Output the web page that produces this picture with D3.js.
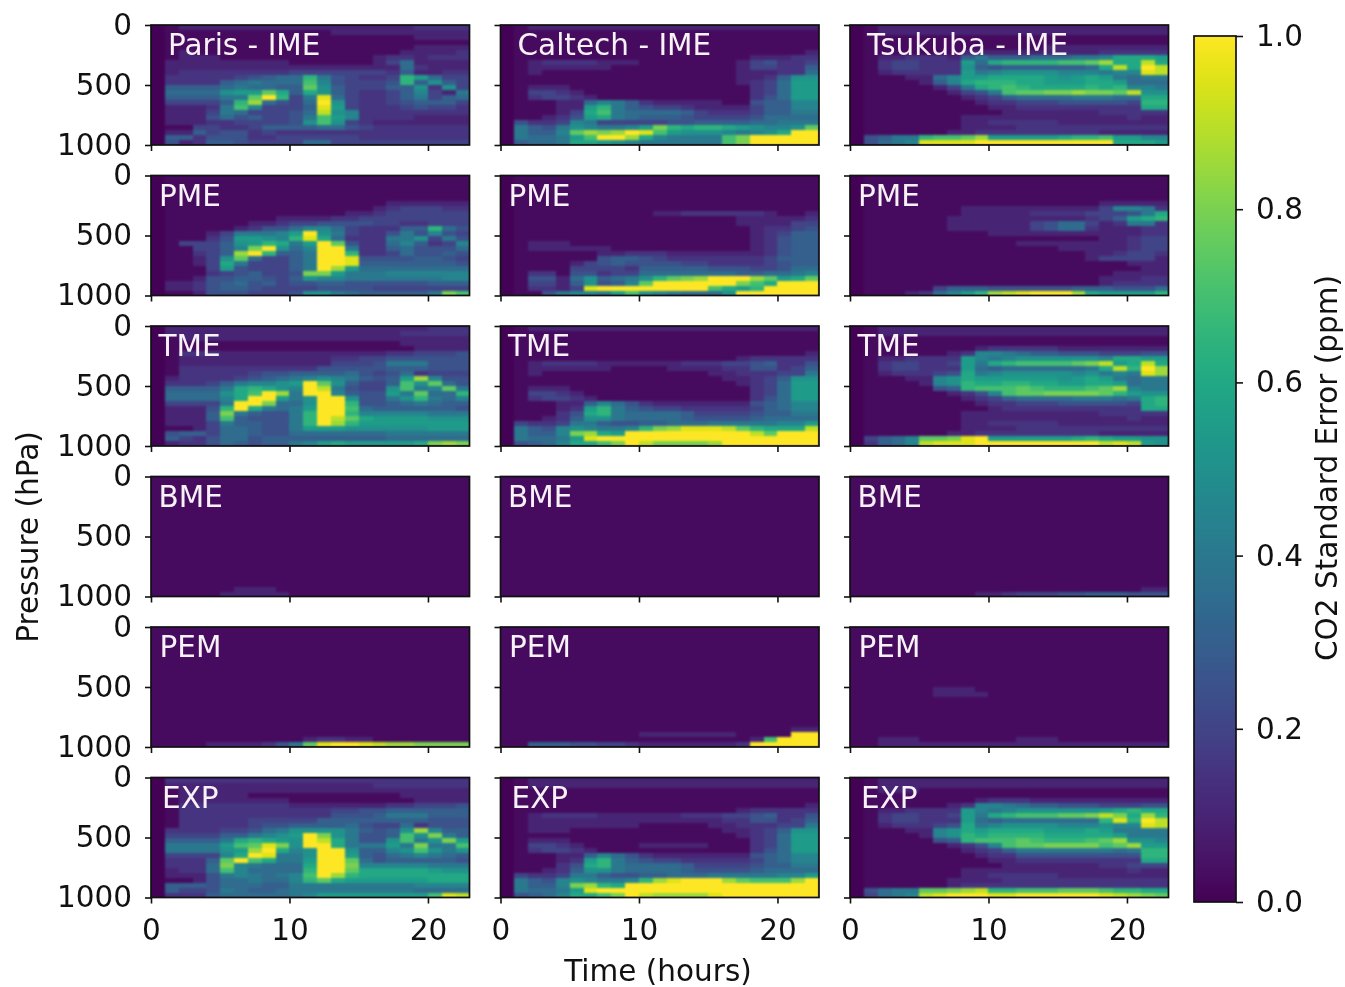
<!DOCTYPE html>
<html><head><meta charset="utf-8">
<script src="https://cdn.jsdelivr.net/npm/d3@7"></script>
<style>html,body{margin:0;background:#fff}svg{display:block;filter:blur(0.5px)}text{font-family:"DejaVu Sans",sans-serif}</style>
</head><body><svg id="c" width="1345" height="987"></svg>
<script>
// Cell values: one character per hour, index into cellLevels. 24 pressure rows top to bottom.
const cellLevels=[0.005,0.03,0.1,0.15,0.2,0.25,0.3,0.35,0.4,0.45,0.5,0.55,0.6,0.65,0.7,0.75,0.8,0.85,0.9,0.95,1];
const cellCodes="0123456789abcdefghijk";
const calm="11111 11111 11111 11111 111";
const parisIME=["01222 22222 22222 22223 333","01111 11111 11122 22222 222","01111 11111 11111 11112 222","01111 11111 11111 11111 111","01111 11111 11111 11112 222","01211 11111 11111 11122 223","01222 11111 11111 12332 333","02222 22222 11111 12472 222","02222 22222 22222 22273 222","02333 33333 44444 44362 233","03333 34567 7d854 334db 744","03333 67877 7e954 445d6 a64","06666 78776 6fa64 4466a 3a4","07777 abbfc 6ca64 33469 428","06666 88fkd 48j74 33468 467","04444 6dh75 47ka4 33456 664","02223 8e944 46jb4 33345 443","02224 87444 57ia9 33333 333","02225 75644 58eb9 33332 222","02223 34444 5aea4 32222 222","01144 33466 66775 43333 333","02264 55343 33333 33333 333","06635 55334 44444 33333 333","05236 65444 47744 44444 444"];
const caltechIME=["01222 22222 22222 22222 222","01111 11111 11111 11111 111","01111 11111 11111 11111 111","01111 11111 11111 11111 111","01111 11111 11111 11111 111","01111 11111 11111 11111 112","01111 11111 11111 11122 233","01233 33222 11111 11245 334","01222 22211 11111 11244 336","01211 11111 11111 11222 337","01111 11111 11111 11223 6aa","01111 11111 11111 11234 7bb","01222 11111 11111 11134 7bb","01443 21111 11111 11134 7bb","01344 32111 11111 11135 7bb","01112 27986 32222 21156 699","01112 2bd86 54432 22246 699","01112 4ce87 77764 33346 688","01123 5bc87 66654 44457 777","05334 98444 44556 66677 888","08658 a9889 bgdcd dcba9 9af","08669 fhghk jebaa a989a ckk","08778 bekkh c9888 8egkk kkk","06778 ccba9 88888 8egkk kkk"];
const tsukubaIME=["01222 22222 22222 22222 222","01222 22222 22222 22222 222","01111 11111 11111 11111 111","01111 11111 11111 11111 111","01111 11111 11112 22222 222","01111 11122 22222 22233 333","01223 33268 66677 7889c ccb","01344 333b7 cdddd eefhc cic","01344 333a6 56666 667ci cki","01233 333b8 9aaaa 99989 9ji","01112 279bb ccccb abcb8 788","01111 269cd ddccb bbccb 777","01111 1248c dedcc ccdcd 998","01111 11245 8effg ghggf iaa","01111 11123 46777 78887 7cc","01111 11112 33444 55555 4dd","01111 11111 22333 33333 3cc","01111 11111 12222 22233 333","01111 11122 22222 22222 322","01111 11122 33333 22222 222","01111 11122 22333 33333 333","01111 11223 33333 33322 222","05688 deefh bbbbb cddeb b99","05789 jjjjk kkkkk kkkkc ccb"];
const parisPME=["01111 11111 11111 11111 111","01111 11111 11111 11111 111","01111 11111 11111 11111 111","01111 11111 11111 11111 111","01111 11111 11111 11111 111","01111 11111 11111 11222 222","01111 11111 11111 12344 433","01111 11111 11112 23444 444","01111 11112 22233 44444 444","01111 11223 44555 54433 444","01111 12355 79974 33366 d75","01112 48889 bka84 33585 954","01113 5bba9 djc73 3388a 485","01444 6abdc 8bkf5 33796 349","01144 69gka 79kk8 33675 557","01134 6hkd6 68kkd 33475 565","01124 af744 68kkj 55556 654","01124 c8444 68kkj 66666 665","01114 b5444 68khb 77777 777","01113 45644 5ggb8 88999 999","01125 56654 6a998 88888 899","02235 67564 55665 55555 666","02235 66544 44555 54444 444","01125 55444 5aa87 66666 8ge"];
const caltechPME=["01111 11111 11111 11111 111","01111 11111 11111 11111 111","01111 11111 11111 11111 111","01111 11111 11111 11111 111","01111 11111 11111 11111 111","01111 11111 11111 11111 111","01111 11111 11111 11111 111","01111 11111 12233 33332 112","01111 11111 11111 11222 223","01111 11111 11111 11222 244","01111 11111 11111 11123 345","01111 11111 11111 11123 466","01111 11111 11111 11123 566","01222 11111 11111 11123 566","01222 22211 11111 11123 566","01111 11223 33222 22223 566","01111 11566 54333 33334 666","01111 24565 55544 33334 566","01111 44443 66666 55544 577","01331 55344 77777 77667 789","01552 7a678 adfgh kkkhf bcf","01442 6a569 fkkkk kkgec kkk","01332 4jkkk kkkkk ecbdk kkk","01158 998be a9877 7akkk kkk"];
const tsukubaPME=["01111 11111 11111 11111 111","01111 11111 11111 11111 111","01111 11111 11111 11111 111","01111 11111 11111 11111 111","01111 11111 11111 11111 111","01111 11111 11111 11122 222","01111 11122 22222 22249 983","01111 11122 22233 33444 58c","01111 11222 22222 22346 bcd","01111 11222 22245 77423 883","01111 11222 22245 77322 233","01111 11111 22222 22222 233","01111 11111 11111 11122 344","01111 11111 11222 22222 344","01111 11111 11111 22222 344","01111 11111 11111 11223 443","01111 11111 11111 11244 442","01111 11111 11111 11111 222","01111 11111 11111 11111 122","01111 11111 11111 11112 222","01111 11111 11111 11122 233","01111 11111 11111 11123 333","01111 14666 55555 56665 557","01112 379bd hijkk khcbb bbd"];
const parisTME=["02222 22222 22222 22222 333","02222 22222 22222 22233 333","01222 22222 22222 22222 222","01111 11111 11111 11122 222","01111 11111 11111 11112 222","01333 22222 22222 22334 445","01222 22222 22233 44555 555","01222 22222 22244 45888 555","01333 33333 33555 55666 555","01333 33455 66667 54573 444","02333 34567 89a98 656bh 955","03334 6899a bkfa6 446ea f75","06666 8cdca 9ki85 44ae8 9f8","07777 acekh 8kk96 55b8f 77d","07777 9ckkb 8akka 558ad 879","04444 8kkg7 7akkd 55678 766","02225 dkc87 8bkke 76666 665","02226 g8655 8dkkd 99999 888","02226 e6555 8dkif cbbbb aaa","02224 86655 8dkhd bbbbb bbb","01124 77655 8bbba aaaaa bbb","05664 77655 77777 77888 888","06435 77566 66666 66777 777","02335 76566 89bcb bbbbc ghg"];
const caltechTME=["01222 22222 22222 22222 222","01111 11111 11111 11111 111","01111 11111 11111 11111 111","01111 11111 11111 11111 111","01111 11111 11111 11111 111","01111 11111 11111 11111 112","01111 11111 11111 11233 333","01233 33222 22233 34456 335","01222 22211 11222 23355 346","01211 11111 11111 22333 448","01111 11111 11111 12234 6aa","01111 11111 11111 11234 7bb","01222 11111 11111 11134 7bb","01443 21111 11111 11134 7bb","01344 32111 11111 11135 7bb","01112 26975 32222 22256 799","01112 3bd86 54433 33346 799","01113 5cd87 77764 44456 688","01123 6aa87 77765 55567 777","04334 88655 66777 88888 99b","08659 a9889 dghjj jifdc cci","08669 ghcbk kkkkk kkkif kkk","08778 bjkkk kkkkk kkkkk kkk","05679 ccegk igggg hkkkk kkk"];
const tsukubaTME=["01222 22222 22222 22222 222","01222 22222 22222 22222 222","01111 11111 11111 11111 111","01111 11111 11111 11111 111","01111 11112 33333 22222 222","01111 11239 98766 55544 455","01223 333b9 89aaa aaa9c cbb","01344 334b8 cdeee efgib cic","01344 333b7 67777 778ci dkh","01233 345c8 9aaaa a9a89 8jh","01112 29acb bbbbb abcb8 788","01111 29adc cddcc bbccb 788","01111 156de eefed ddefh 988","01111 11235 9effg gggfd baa","01111 11123 46777 78887 8cd","01111 11112 33444 55555 4cd","01111 11111 23333 33333 3cc","01111 11122 22222 22233 333","01111 11122 22222 22222 322","01111 11122 33333 22222 222","01111 11122 22333 33333 333","01111 11223 33333 33322 222","04679 ffgjk bbbbb bcdcb baa","03679 ijjjk kkkkk kkkij iba"];
const parisBME=[calm,calm,calm,calm,calm,calm,calm,calm,calm,calm,calm,calm,calm,calm,calm,calm,calm,calm,calm,calm,calm,calm,"11111 12221 11111 11111 111","11111 22222 11111 11111 111"];
const caltechBME=[calm,calm,calm,calm,calm,calm,calm,calm,calm,calm,calm,calm,calm,calm,calm,calm,calm,calm,calm,calm,calm,calm,calm,calm];
const tsukubaBME=[calm,calm,calm,calm,calm,calm,calm,calm,calm,calm,calm,calm,calm,calm,calm,calm,calm,calm,calm,calm,calm,calm,"11111 11111 11111 11111 122","11111 11112 23444 55666 555"];
const parisPEM=[calm,calm,calm,calm,calm,calm,calm,calm,calm,calm,calm,calm,calm,calm,calm,calm,calm,calm,calm,calm,calm,calm,"11111 11111 12332 21111 111","11112 22235 8fjkk jihhg ggg"];
const caltechPEM=[calm,calm,calm,calm,calm,calm,calm,calm,calm,calm,calm,calm,calm,calm,calm,calm,calm,calm,calm,calm,"11111 11111 11111 11111 122","11111 11111 22222 22111 1kk","11111 11111 11111 1112e kkk","11666 55443 22222 22 3kk kkk"];
const tsukubaPEM=[calm,calm,calm,calm,calm,calm,calm,calm,calm,calm,calm,calm,"11111 12221 11111 11111 111","11111 12222 11111 11111 111",calm,calm,calm,calm,calm,calm,calm,calm,"11222 11111 11222 11111 111","11222 22222 22222 22222 222"];
const parisEXP=["03333 33333 33333 33333 333","02222 22222 22222 23333 333","01222 22222 22222 22222 222","01222 22111 11111 11122 222","01222 22222 11111 11112 222","01333 33333 22222 22334 445","01333 33333 33344 55666 666","01333 33333 33355 56888 666","01333 33444 44666 66666 555","01333 33455 66667 54473 555","03333 44578 aaaa8 656ah 966","04444 6689a bkga8 556ea g86","06666 8cdcb akic8 55ae8 agb","08888 befjg akkc8 88b8g 88e","08888 abhkc 9akka 669ae a8a","04444 9ckj8 8akkb 65789 876","03336 fkec8 8bkkf 75666 665","03337 g9877 7ckkg 99999 888","02337 e9777 7dkkf ccccc baa","02225 89878 9ekhd ccccc ccc","01125 77877 9dfcb bbbbb ccc","06665 77766 88888 88889 999","06445 87667 88888 88887 777","03336 77777 89bbb bbbbb eji"];
const caltechEXP=["01222 22222 22222 22222 222","01222 22222 22222 22222 222","01111 11111 11111 11111 111","01111 11111 11111 11111 111","01111 11111 11111 11111 111","01111 11111 11111 11111 112","01111 11111 11111 11233 333","01233 33222 22233 34456 335","01222 22222 22222 23355 346","01222 22222 11111 22333 448","01222 11111 11111 12234 6aa","01111 11111 11111 11234 7bb","01222 11111 11111 11134 7bb","01443 21111 22222 11134 7bb","01344 32111 11111 11135 7bb","01112 26975 32222 22256 799","01112 3bd86 54433 33346 799","01113 5cd87 77764 44456 688","01123 6aa87 77765 55567 777","04334 88655 66777 88888 99b","08659 a9889 dhjkk khfee ehk","08669 ghdck kkkkk kkkkk kkk","08778 bjkkk kkkkk kkkkk kkk","05679 ccegk ihhhh jkkkk kkk"];
const tsukubaEXP=["01222 22222 22222 22222 222","01222 22222 22222 22222 222","01222 11111 11111 11111 111","01111 11111 11111 11111 111","01111 11112 33322 22222 222","01111 11239 98766 55544 455","01223 333b9 89aaa aaabc dcc","01344 334b8 cdeee ffgig chd","01344 333b7 67777 777dj dki","01233 345c8 9aaaa 999a9 9ji","01112 29acb ccccb bbcb8 888","01111 29adc ddddc ccccb 888","01111 156de eefed ddefh aa9","01111 11235 9effg gggef hbb","01111 11123 46888 88887 8dd","01111 11112 33555 55555 5dd","01111 11111 22333 33333 3cc","01111 11111 12222 22233 444","01111 11122 22222 22222 322","01111 11122 33333 22222 222","01111 11222 23333 33333 333","01111 11233 33333 33333 333","05788 ffghi ddeee fffed dcc","04789 ijkkk jjkkk kkkji hgf"];

const panelLabels=[["Paris - IME","Caltech - IME","Tsukuba - IME"],["PME","PME","PME"],["TME","TME","TME"],["BME","BME","BME"],["PEM","PEM","PEM"],["EXP","EXP","EXP"]];
const panelValues=[[parisIME,caltechIME,tsukubaIME],[parisPME,caltechPME,tsukubaPME],[parisTME,caltechTME,tsukubaTME],[parisBME,caltechBME,tsukubaBME],[parisPEM,caltechPEM,tsukubaPEM],[parisEXP,caltechEXP,tsukubaEXP]];
const timeTicks=[0,10,20];
const pressureTicks=[0,500,1000];
const colorTicks=[0,0.2,0.4,0.6,0.8,1.0];

const svg=d3.select("#c");
const W=318.5,H=120;
const colX=[151,500.5,850],rowY=[25,175.5,326,476.5,627,777.5];
const labelX=[17,8,7.5,7.5,8.5,11];
const color=d3.scaleSequential(d3.interpolateViridis).domain([0,1]);
const x=d3.scaleLinear().domain([0,23]).range([0,W]);
const yAxisScale=d3.scaleLinear().domain([0,1000]).range([0,H]);
const rowBand=d3.scaleBand().domain(d3.range(24)).range([0,H]);
const FS=29.5,INK="#111";
function style(g){g.select(".domain").remove();g.selectAll("line").attr("stroke",INK).attr("stroke-width",1.6);g.selectAll("text").attr("font-size",FS).attr("fill",INK).attr("font-family","DejaVu Sans");}
const defs=svg.append("defs");
defs.append("clipPath").attr("id","panelClip").append("rect").attr("width",W).attr("height",H);
panelValues.forEach((rowPanels,r)=>rowPanels.forEach((rows,c)=>{
  const g=svg.append("g").attr("transform",`translate(${colX[c]},${rowY[r]})`);
  const clip=g.append("g").attr("clip-path","url(#panelClip)");
  clip.append("rect").attr("width",W).attr("height",H).attr("fill",color(0.03));
  const cells=clip.append("g").style("filter","blur(0.8px)");
  rows.forEach((s,ri)=>{
    const vals=Array.from(s.replace(/ /g,"")).map(ch=>cellLevels[cellCodes.indexOf(ch)]);
    cells.append("g").selectAll("rect").data(vals).join("rect")
      .attr("x",(d,i)=>x(i)).attr("width",(d,i)=>x(i+1)-x(i))
      .attr("y",rowBand(ri)).attr("height",rowBand.bandwidth())
      .attr("fill",d=>color(d)).attr("shape-rendering","crispEdges");
  });
  g.append("rect").attr("width",W).attr("height",H).attr("fill","none").attr("stroke",INK).attr("stroke-width",1.7);
  const ax=d3.axisBottom(x).tickValues(timeTicks).tickSize(6).tickPadding(16);
  if(r<5)ax.tickFormat("");
  g.append("g").attr("transform",`translate(0,${H})`).call(ax).call(style);
  const ay=d3.axisLeft(yAxisScale).tickValues(pressureTicks).tickSize(6).tickPadding(13).tickFormat(d3.format("d"));
  if(c>0)ay.tickFormat("");
  g.append("g").call(ay).call(style);
  g.append("text").attr("x",labelX[r]).attr("y",30).attr("font-size",FS).attr("fill","#f8f2f8").text(panelLabels[r][c]);
}));
// colour bar
const cbX=1194,cbW=42;
const cbY=d3.scaleLinear().domain([0,1]).range([902,36]);
const grad=defs.append("linearGradient").attr("id","vir").attr("x1",0).attr("x2",0).attr("y1",1).attr("y2",0);
d3.range(0,1.001,0.02).forEach(t=>grad.append("stop").attr("offset",t).attr("stop-color",color(t)));
svg.append("rect").attr("x",cbX).attr("y",cbY(1)).attr("width",cbW).attr("height",cbY(0)-cbY(1)).attr("fill","url(#vir)").attr("stroke",INK).attr("stroke-width",1.7);
svg.append("g").attr("transform",`translate(${cbX+cbW},0)`).call(d3.axisRight(cbY).tickValues(colorTicks).tickFormat(d3.format(".1f")).tickSize(7).tickPadding(13)).call(style);
svg.append("text").attr("x",658).attr("y",981).attr("text-anchor","middle").attr("font-size",FS).attr("fill",INK).text("Time (hours)");
svg.append("text").attr("transform","translate(38,537) rotate(-90)").attr("text-anchor","middle").attr("font-size",FS).attr("fill",INK).text("Pressure (hPa)");
svg.append("text").attr("transform","translate(1337,468) rotate(-90)").attr("text-anchor","middle").attr("font-size",FS).attr("fill",INK).text("CO2 Standard Error (ppm)");
</script></body></html>
